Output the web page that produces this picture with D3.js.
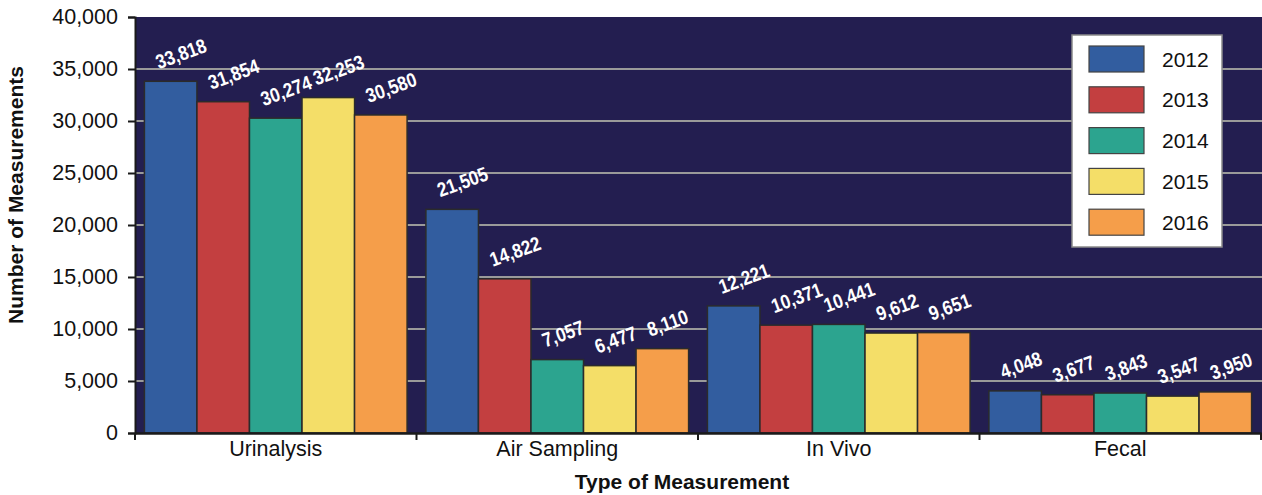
<!DOCTYPE html>
<html>
<head>
<meta charset="utf-8">
<script src="https://cdn.jsdelivr.net/npm/d3@7"></script>
<style>
  html, body { margin: 0; padding: 0; background: #ffffff; }
  svg { display: block; font-family: "Liberation Sans", Arial, sans-serif; }
</style>
</head>
<body>
<svg id="chart" width="1262" height="495"></svg>
<script>
const categories = ["Urinalysis", "Air Sampling", "In Vivo", "Fecal"];
const years = ["2012", "2013", "2014", "2015", "2016"];
const values2012 = [33818, 21505, 12221, 4048];
const values2013 = [31854, 14822, 10371, 3677];
const values2014 = [30274, 7057, 10441, 3843];
const values2015 = [32253, 6477, 9612, 3547];
const values2016 = [30580, 8110, 9651, 3950];
const yTicks = [0, 5000, 10000, 15000, 20000, 25000, 30000, 35000, 40000];
const colors = ["#325D9F", "#C33F40", "#2CA48F", "#F4DE68", "#F59E4A"];

const seriesValues = [values2012, values2013, values2014, values2015, values2016];

const svg = d3.select("#chart");
const plot = { left: 135, right: 1261, top: 17, bottom: 433 };

const x = d3.scaleBand().domain(categories).range([plot.left, plot.right]).paddingInner(0).paddingOuter(0);
const xi = d3.scaleBand().domain(years).range([0, x.bandwidth()]).paddingInner(0).paddingOuter(0.179);
const y = d3.scaleLinear().domain([0, 40000]).range([plot.bottom, plot.top]);
const color = d3.scaleOrdinal().domain(years).range(colors);

// plot background
svg.append("rect")
  .attr("x", plot.left).attr("y", plot.top)
  .attr("width", 1262 - plot.left).attr("height", plot.bottom - plot.top)
  .attr("fill", "#231E50");

// gridlines
svg.append("g").selectAll("line")
  .data(yTicks.filter(d => d > 0 && d < 40000))
  .join("line")
  .attr("x1", plot.left).attr("x2", 1262)
  .attr("y1", d => y(d)).attr("y2", d => y(d))
  .attr("stroke", "#9a9a9a").attr("stroke-width", 2);

// bars
const rows = [];
categories.forEach((c, ci) => {
  years.forEach((yr, si) => {
    rows.push({ cat: c, year: yr, value: seriesValues[si][ci] });
  });
});

svg.append("g").selectAll("rect")
  .data(rows)
  .join("rect")
  .attr("x", d => x(d.cat) + xi(d.year))
  .attr("y", d => y(d.value))
  .attr("width", xi.bandwidth())
  .attr("height", d => y(0) - y(d.value))
  .attr("fill", d => color(d.year))
  .attr("stroke", "#2b2b2b")
  .attr("stroke-width", 1.5);

// data labels
svg.append("g").selectAll("text")
  .data(rows)
  .join("text")
  .attr("transform", d => {
    const cx = x(d.cat) + xi(d.year) + xi.bandwidth() / 2 - 12;
    const cy = y(d.value) - 12;
    return `translate(${cx},${cy}) rotate(-20) scale(0.86,1)`;
  })
  .attr("text-anchor", "start")
  .attr("fill", "#ffffff")
  .attr("font-weight", "bold")
  .attr("font-size", 20)
  .text(d => d3.format(",")(d.value));

// y axis
const yAxis = d3.axisLeft(y).tickValues(yTicks).tickFormat(d3.format(",")).tickSize(7).tickPadding(10);
const gy = svg.append("g").attr("transform", `translate(${plot.left},0)`).call(yAxis);
gy.select(".domain").attr("stroke", "#1a1a1a").attr("stroke-width", 2);
gy.selectAll(".tick line").attr("stroke", "#1a1a1a").attr("stroke-width", 2);
gy.selectAll(".tick text").attr("font-size", 21.5).attr("fill", "#111")
  .attr("font-family", "Liberation Sans, Arial, sans-serif");

// x axis
const xAxis = d3.axisBottom(x).tickSize(0).tickPadding(8);
const gx = svg.append("g").attr("transform", `translate(0,${plot.bottom})`).call(xAxis);
gx.select(".domain").attr("stroke", "#1a1a1a").attr("stroke-width", 2.5);
gx.selectAll(".tick text").attr("font-size", 21.5).attr("fill", "#111")
  .attr("font-family", "Liberation Sans, Arial, sans-serif");
// category boundary ticks
const bounds = categories.map(c => x(c)).concat([plot.right]);
gx.selectAll(".bound").data(bounds).join("line")
  .attr("class", "bound")
  .attr("x1", d => d).attr("x2", d => d)
  .attr("y1", 0).attr("y2", 7)
  .attr("stroke", "#1a1a1a").attr("stroke-width", 2);

// axis titles
svg.append("text")
  .attr("x", 682).attr("y", 489)
  .attr("text-anchor", "middle")
  .attr("font-weight", "bold").attr("font-size", 21).attr("fill", "#111")
  .text("Type of Measurement");

svg.append("text")
  .attr("transform", "translate(23,195) rotate(-90)")
  .attr("text-anchor", "middle")
  .attr("font-weight", "bold").attr("font-size", 21).attr("fill", "#111")
  .text("Number of Measurements");

// legend
const lg = svg.append("g");
lg.append("rect")
  .attr("x", 1072).attr("y", 35).attr("width", 150).attr("height", 212)
  .attr("fill", "#ffffff").attr("stroke", "#8a8a8a").attr("stroke-width", 1.5);
const li = lg.selectAll("g.item").data(years).join("g").attr("class", "item")
  .attr("transform", (d, i) => `translate(1089,${46 + i * 40.8})`);
li.append("rect")
  .attr("width", 55).attr("height", 26)
  .attr("fill", d => color(d))
  .attr("stroke", "#444").attr("stroke-width", 1.2);
li.append("text")
  .attr("x", 73).attr("y", 13).attr("dy", "0.36em")
  .attr("font-size", 21).attr("fill", "#111")
  .text(d => d);
</script>
</body>
</html>
